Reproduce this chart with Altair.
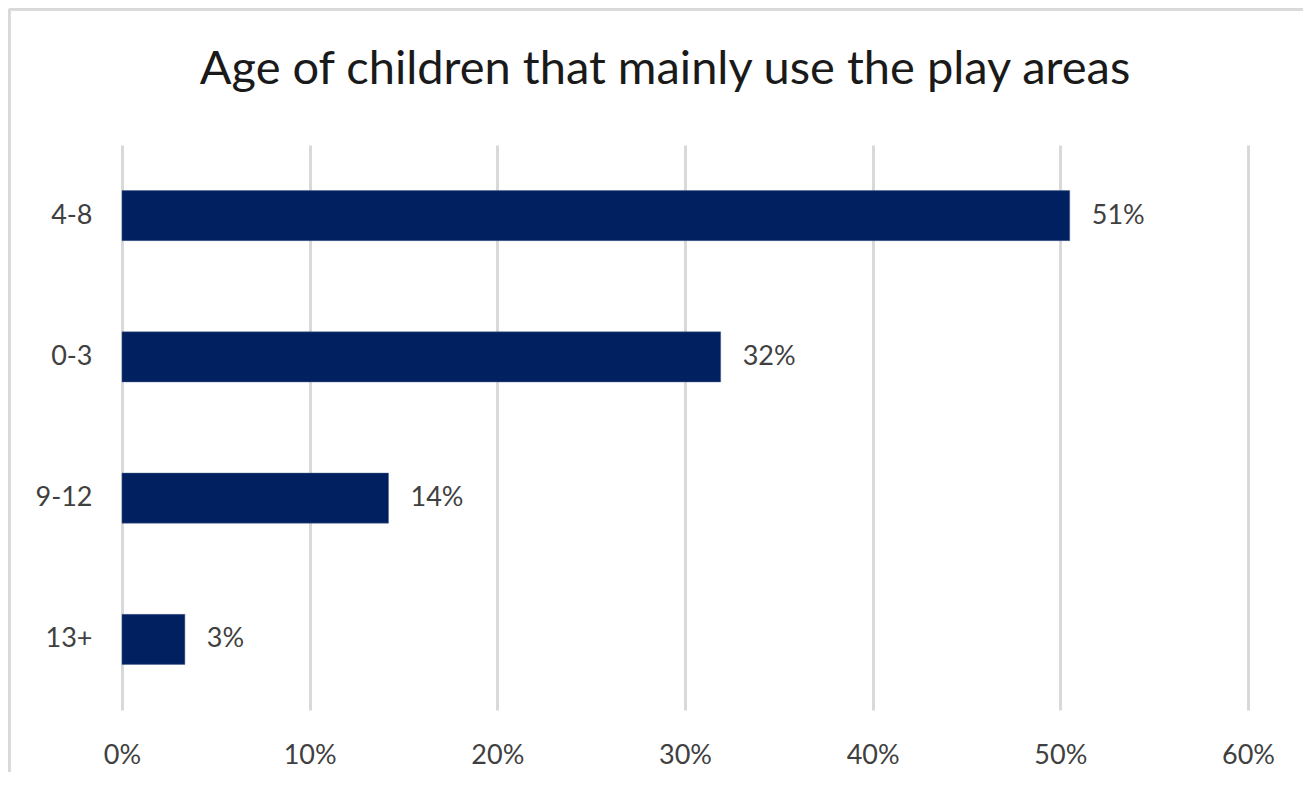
import altair as alt
import pandas as pd

categories = ["4-8", "0-3", "9-12", "13+"]
values = [50.5, 31.9, 14.2, 3.35]
labels = ["51%", "32%", "14%", "3%"]
x_ticks = [0, 0.1, 0.2, 0.3, 0.4, 0.5, 0.6]

df = pd.DataFrame({
    "age": categories,
    "share": [v / 100 for v in values],
    "label": labels,
})

FONT = "Lato"
W, H = 1126, 565

x_enc = alt.X("share:Q",
              scale=alt.Scale(domain=[0, 0.6], nice=False, zero=True),
              axis=alt.Axis(values=x_ticks, format=".0%", title=None, grid=True,
                            gridColor="#d9d9d9", gridWidth=3, domain=False, ticks=False,
                            labelFlush=False,
                            labelPadding=32, labelFontSize=27, labelFont=FONT,
                            labelColor="#404040"))
y_enc = alt.Y("age:N", sort=categories,
              scale=alt.Scale(paddingInner=0.646, paddingOuter=0.323),
              axis=alt.Axis(title=None, domain=False, ticks=False, grid=False,
                            labelPadding=30, labelFontSize=27, labelFont=FONT,
                            labelColor="#404040"))

bars = alt.Chart(df).mark_bar(color="#002060", stroke="#4a5f8c", strokeWidth=0.5).encode(
    x=x_enc, y=y_enc)

text = alt.Chart(df).mark_text(align="left", baseline="middle", dx=22, fontSize=27,
                               font=FONT, color="#404040").encode(
    x="share:Q", y=alt.Y("age:N", sort=categories), text="label:N")

frame_top = alt.Chart(df).mark_rule(color="#d9d9d9", strokeWidth=3).encode(
    x=alt.value(-113), x2=alt.value(W + 120), y=alt.value(-136))
frame_left = alt.Chart(df).mark_rule(color="#d9d9d9", strokeWidth=3).encode(
    x=alt.value(-113), y=alt.value(-136), y2=alt.value(H + 120))

chart = alt.layer(frame_top, frame_left, bars, text).properties(
    width=W, height=H,
    autosize=alt.AutoSizeParams(type="none"),
    padding={"left": 114, "top": 137, "right": 55, "bottom": 62},
    title=alt.TitleParams("Age of children that mainly use the play areas",
                          fontSize=47, font=FONT, fontWeight="normal", color="#1a1a1a",
                          anchor="middle", dx=-20, offset=-123, baseline="alphabetic"),
).configure_view(stroke=None)

chart.save("out.html", embed_options={"renderer": "svg", "actions": False})
